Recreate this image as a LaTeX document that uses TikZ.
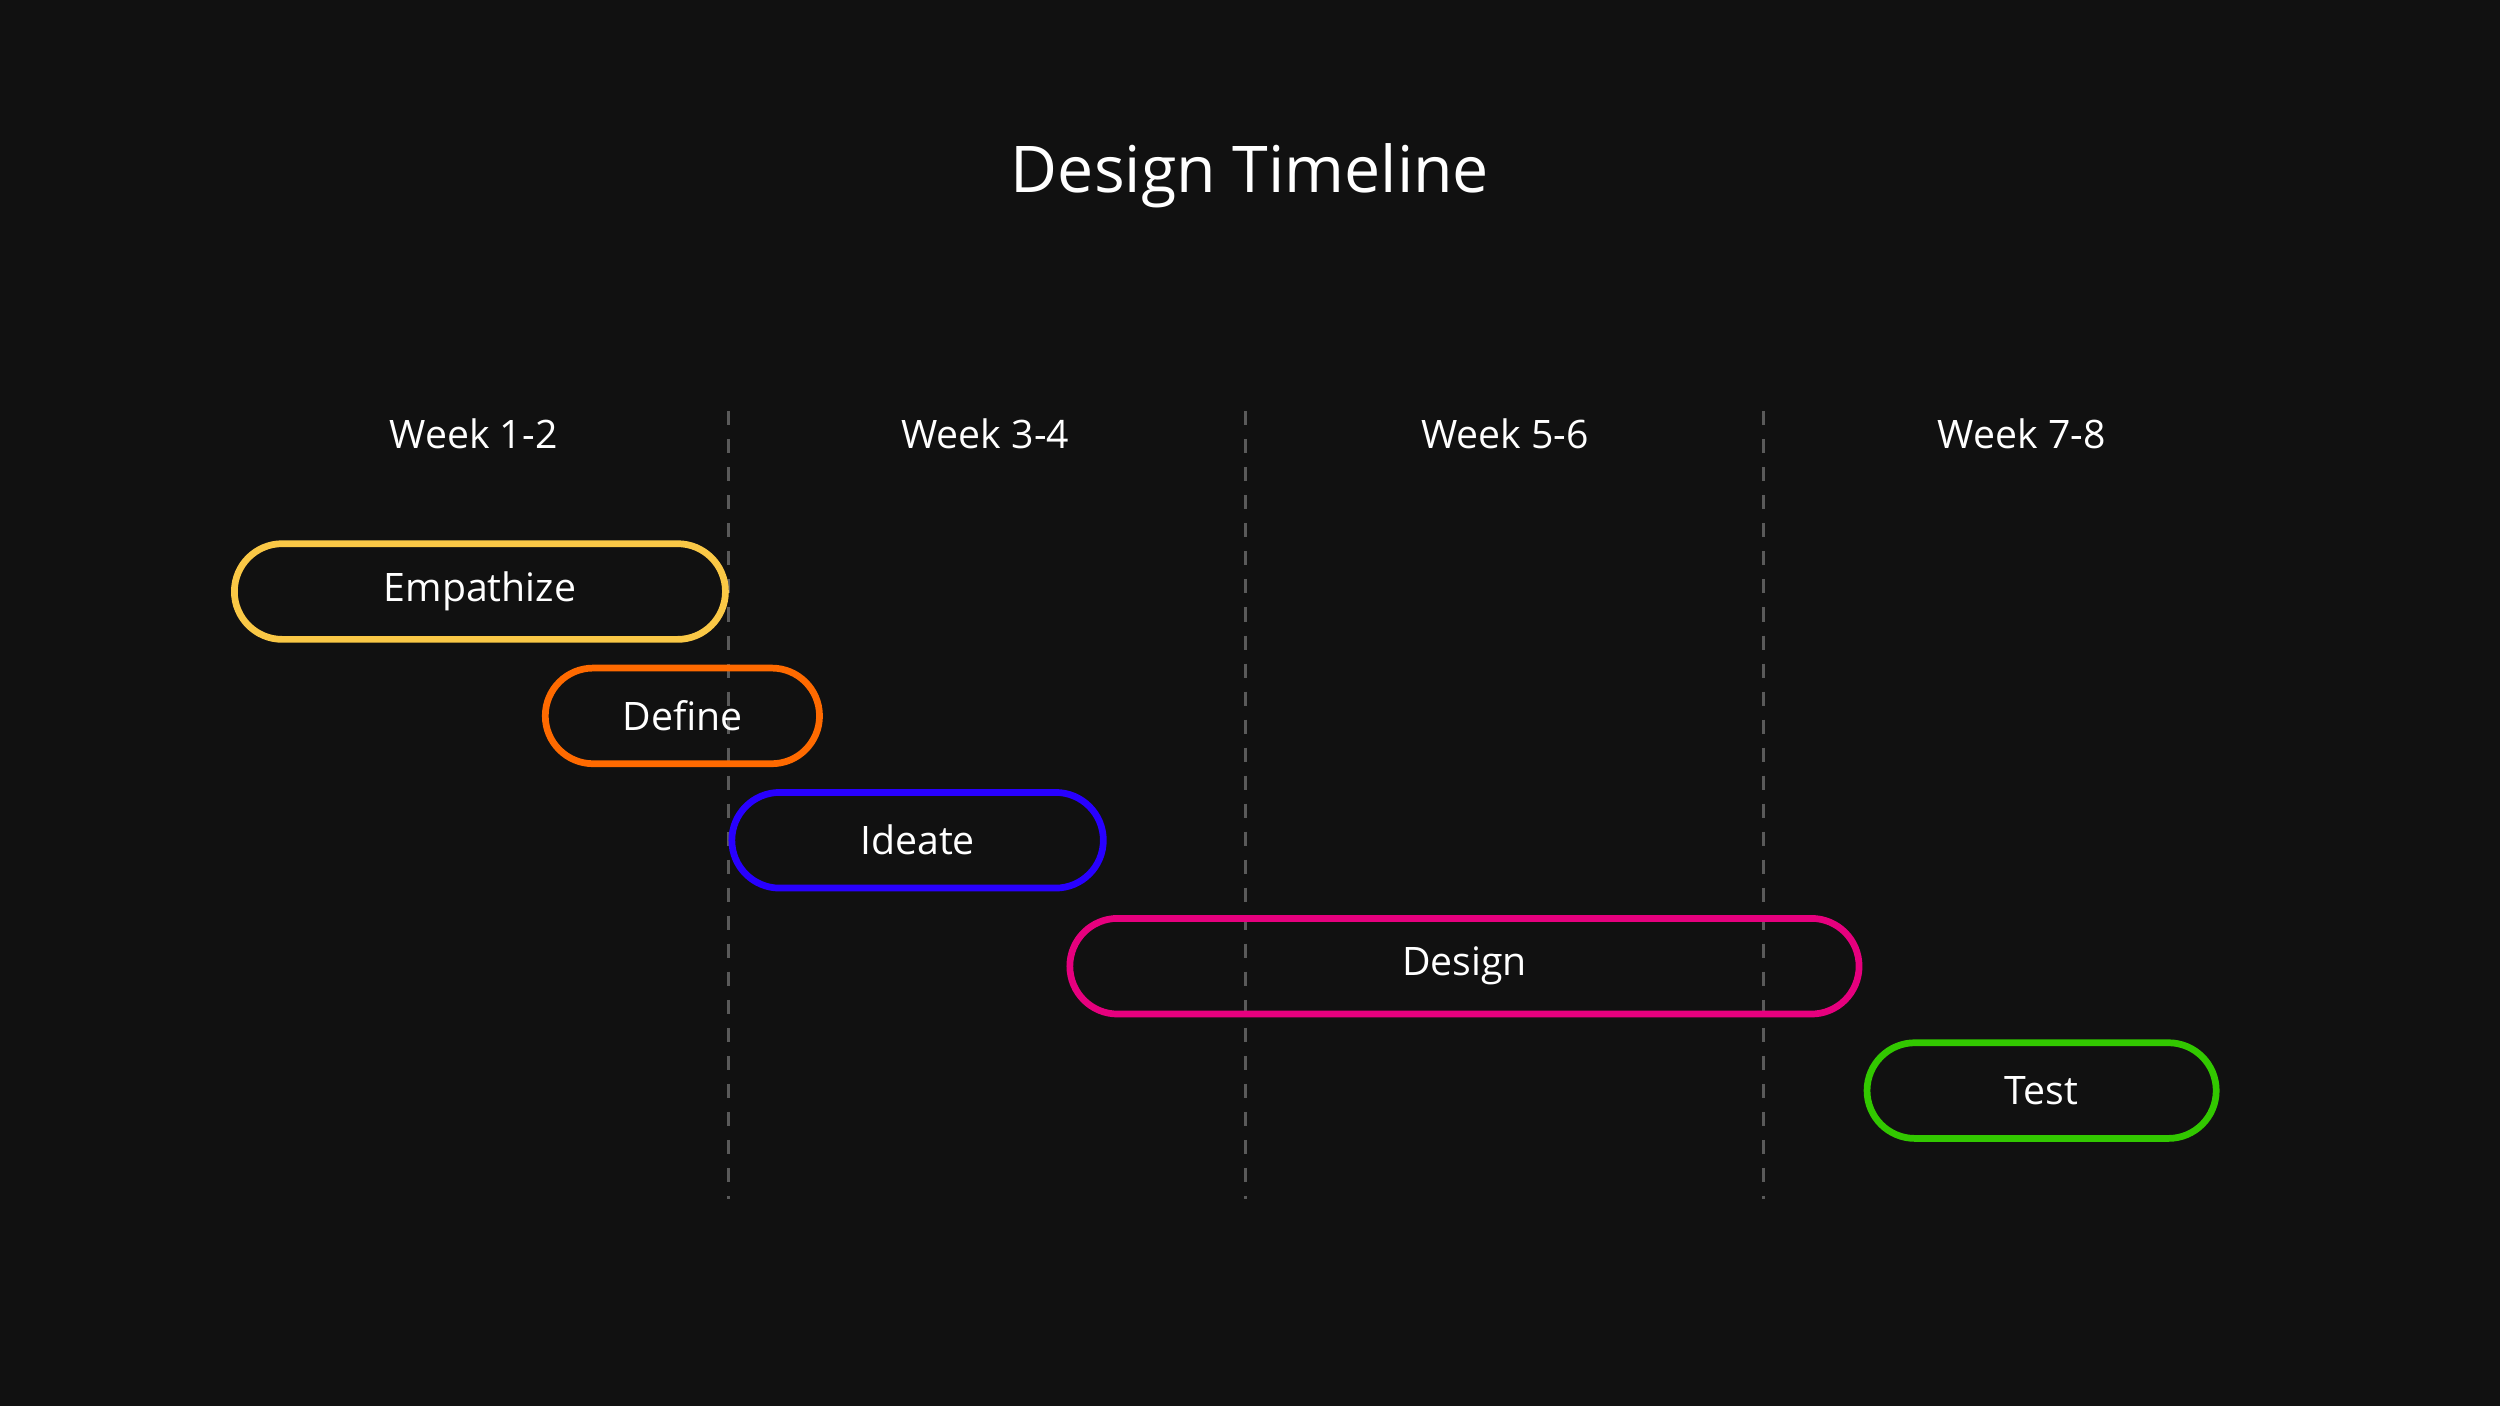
\documentclass[tikz,border=0pt]{standalone}
\usepackage{fontspec}
\setmainfont{Open Sans}
\usepackage{xcolor}
\usepackage{tikz}
\definecolor{BgDark}{RGB}{17, 17, 17}
\definecolor{GridGray}{RGB}{90, 90, 90}
\definecolor{PhaseYellow}{RGB}{250, 200, 70}
\definecolor{PhaseOrange}{RGB}{255, 106, 0}
\definecolor{PhaseBlue}{RGB}{40, 0, 255}
\definecolor{PhasePink}{RGB}{230, 0, 126}
\definecolor{PhaseGreen}{RGB}{50, 200, 0}
\tikzstyle{phase} = [rectangle, rounded corners=0.3cm, minimum height=0.6cm, text centered, line width=1.2pt, text=white, font=\fontsize{7}{8}\selectfont]
\tikzstyle{week} = [text=white, font=\fontsize{7}{8}\selectfont]
\tikzstyle{divider} = [GridGray, dashed, line width=0.6pt, dash pattern=on 2.5pt off 2.5pt]
\usetikzlibrary{positioning}

\begin{document}
\begin{tikzpicture}

% Fond
\fill [BgDark] (0,0) rectangle (15.68,8.82);
\useasboundingbox (0,0) rectangle (15.68,8.82);

% Titre
\node (title) [text=white, font=\fontsize{11.5}{13}\selectfont] at (7.84,7.72) {Design Timeline};

% Semaines
\node (week12) [week] at (2.97,6.10) {Week 1-2};
\node (week34) [week] at (6.18,6.10) {Week 3-4};
\node (week56) [week] at (9.44,6.10) {Week 5-6};
\node (week78) [week] at (12.68,6.10) {Week 7-8};

% Séparateurs
\coordinate (sep1top) at (4.57,6.24);
\coordinate (sep1bot) at (4.57,1.30);
\coordinate (sep2top) at (7.81,6.24);
\coordinate (sep2bot) at (7.81,1.30);
\coordinate (sep3top) at (11.06,6.24);
\coordinate (sep3bot) at (11.06,1.30);
\draw [divider] (sep1top) -- (sep1bot);
\draw [divider] (sep2top) -- (sep2bot);
\draw [divider] (sep3top) -- (sep3bot);

% Phases
\node (empathize) [phase, draw=PhaseYellow, minimum width=3.08cm] at (3.01,5.11) {Empathize};
\node (define) [phase, draw=PhaseOrange, minimum width=1.72cm] at (4.28,4.33) {Define};
\node (ideate) [phase, draw=PhaseBlue, minimum width=2.33cm] at (5.755,3.55) {Ideate};
\node (design) [phase, draw=PhasePink, minimum width=4.95cm] at (9.185,2.76) {Design};
\node (test) [phase, draw=PhaseGreen, minimum width=2.19cm] at (12.805,1.98) {Test};

\end{tikzpicture}
\end{document}
